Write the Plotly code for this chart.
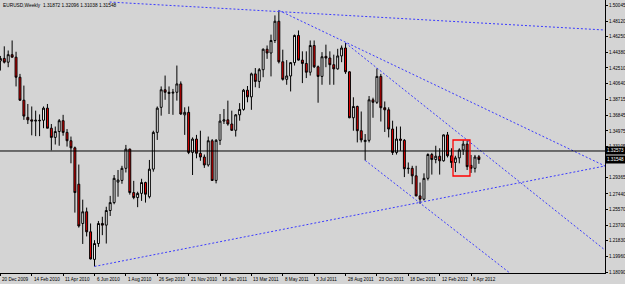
import pandas as pd
import plotly.graph_objects as go

# ---------------- data ----------------
symbol_text = "EURUSD,Weekly"
first_week = "2009-12-20"

opens = [1.4335, 1.4365, 1.4320, 1.4410, 1.4380, 1.4140, 1.3865, 1.3660, 1.3630, 1.3615,
         1.3625, 1.3625, 1.3770, 1.3530, 1.3420, 1.3490, 1.3620, 1.3480, 1.3380, 1.3295,
         1.2860, 1.2390, 1.2530, 1.2290, 1.1960, 1.2150, 1.2390, 1.2370, 1.2545, 1.2640,
         1.2885, 1.2905, 1.3050, 1.3280, 1.2760, 1.2700, 1.2750, 1.2880, 1.2710, 1.3040,
         1.3480, 1.3780, 1.3990, 1.3945, 1.3950, 1.3960, 1.4060, 1.3690, 1.3720, 1.3240,
         1.3400, 1.3230, 1.3185, 1.3090, 1.3380, 1.2905, 1.3385, 1.3615, 1.3630, 1.3580,
         1.3505, 1.3690, 1.3755, 1.3985, 1.3905, 1.4180, 1.4090, 1.4230, 1.4475, 1.4430,
         1.4580, 1.4810, 1.4325, 1.4115, 1.4155, 1.4315, 1.4640, 1.4345, 1.4305, 1.4200,
         1.4520, 1.4265, 1.4150, 1.4390, 1.4370, 1.4290, 1.4240, 1.4395, 1.4490, 1.4205,
         1.3655, 1.3790, 1.3500, 1.3370, 1.3385, 1.3870, 1.3840, 1.4150, 1.3775, 1.3750,
         1.3520, 1.3240, 1.3400, 1.3385, 1.3045, 1.3050, 1.2960, 1.2720, 1.2680, 1.2930,
         1.3215, 1.3155, 1.3195, 1.3140, 1.3450, 1.3200, 1.3120, 1.3175, 1.3270, 1.3340,
         1.3085, 1.3050, 1.31872]
highs = [1.4395, 1.4510, 1.4460, 1.4580, 1.4445, 1.4180, 1.4040, 1.3820, 1.3790, 1.3740,
         1.3695, 1.3790, 1.3820, 1.3580, 1.3550, 1.3640, 1.3690, 1.3520, 1.3430, 1.3310,
         1.3095, 1.2675, 1.2580, 1.2390, 1.2190, 1.2420, 1.2470, 1.2590, 1.2720, 1.2970,
         1.3030, 1.3080, 1.3330, 1.3285, 1.2900, 1.2770, 1.2925, 1.2890, 1.3150, 1.3500,
         1.3790, 1.4030, 1.4160, 1.4030, 1.4000, 1.4280, 1.4090, 1.3780, 1.3790, 1.3420,
         1.3450, 1.3500, 1.3215, 1.3430, 1.3400, 1.3400, 1.3700, 1.3760, 1.3860, 1.3740,
         1.3700, 1.3830, 1.4000, 1.4035, 1.4195, 1.4250, 1.4250, 1.4485, 1.4520, 1.4650,
         1.4880, 1.4940, 1.4470, 1.4345, 1.4320, 1.4650, 1.4700, 1.4450, 1.4450, 1.4580,
         1.4580, 1.4280, 1.4440, 1.4530, 1.4450, 1.4410, 1.4480, 1.4520, 1.4550, 1.4210,
         1.3900, 1.3800, 1.3730, 1.3460, 1.3915, 1.3895, 1.4245, 1.4180, 1.3850, 1.3780,
         1.3620, 1.3550, 1.3550, 1.3400, 1.3120, 1.3080, 1.3080, 1.2880, 1.2990, 1.3230,
         1.3235, 1.3320, 1.3290, 1.3455, 1.3485, 1.3290, 1.3200, 1.3290, 1.3385, 1.3380,
         1.3210, 1.3210, 1.32096]
lows = [1.4220, 1.4305, 1.4260, 1.4375, 1.4030, 1.3860, 1.3630, 1.3580, 1.3445, 1.3435,
        1.3435, 1.3530, 1.3530, 1.3265, 1.3335, 1.3320, 1.3440, 1.3310, 1.3110, 1.2520,
        1.2340, 1.2145, 1.2235, 1.1960, 1.1876, 1.2110, 1.2250, 1.2150, 1.2480, 1.2620,
        1.2710, 1.2865, 1.3000, 1.2735, 1.2680, 1.2585, 1.2660, 1.2640, 1.2690, 1.3010,
        1.3390, 1.3680, 1.3870, 1.3700, 1.3690, 1.3860, 1.3690, 1.3450, 1.3220, 1.2970,
        1.3170, 1.3140, 1.3055, 1.3070, 1.2900, 1.2870, 1.3330, 1.3580, 1.3560, 1.3500,
        1.3430, 1.3620, 1.3740, 1.3840, 1.3750, 1.4020, 1.4010, 1.4140, 1.4360, 1.4150,
        1.4550, 1.4305, 1.4100, 1.4050, 1.3970, 1.4280, 1.4340, 1.4070, 1.4130, 1.4160,
        1.4250, 1.3835, 1.4050, 1.4260, 1.4050, 1.4050, 1.4230, 1.4320, 1.4180, 1.3650,
        1.3500, 1.3360, 1.3360, 1.3145, 1.3360, 1.3655, 1.3820, 1.3610, 1.3485, 1.3420,
        1.3210, 1.3215, 1.3260, 1.2945, 1.2985, 1.2860, 1.2715, 1.2625, 1.2665, 1.2905,
        1.2975, 1.3110, 1.2975, 1.3130, 1.3180, 1.3055, 1.3005, 1.3110, 1.3210, 1.3030,
        1.2995, 1.3000, 1.31038]
closes = [1.4365, 1.4320, 1.4410, 1.4380, 1.4140, 1.3865, 1.3675, 1.3630, 1.3615, 1.3625,
          1.3620, 1.3770, 1.3530, 1.3420, 1.3490, 1.3620, 1.3480, 1.3380, 1.3295, 1.2760,
          1.2360, 1.2530, 1.2290, 1.1965, 1.2150, 1.2390, 1.2370, 1.2545, 1.2640, 1.2930,
          1.2910, 1.3050, 1.3280, 1.2760, 1.2700, 1.2750, 1.2880, 1.2740, 1.3040, 1.3480,
          1.3770, 1.3990, 1.3960, 1.3960, 1.3960, 1.4060, 1.3700, 1.3720, 1.3240, 1.3400,
          1.3230, 1.3185, 1.3090, 1.3380, 1.2905, 1.3385, 1.3615, 1.3630, 1.3580, 1.3505,
          1.3690, 1.3755, 1.3985, 1.3905, 1.4180, 1.4090, 1.4230, 1.4475, 1.4430, 1.4580,
          1.4810, 1.4325, 1.4115, 1.4155, 1.4315, 1.4640, 1.4345, 1.4305, 1.4200, 1.4520,
          1.4265, 1.4150, 1.4385, 1.4370, 1.4290, 1.4240, 1.4395, 1.4490, 1.4205, 1.3655,
          1.3790, 1.3500, 1.3390, 1.3385, 1.3870, 1.3840, 1.4150, 1.3775, 1.3750, 1.3520,
          1.3240, 1.3400, 1.3385, 1.3045, 1.3050, 1.2960, 1.2720, 1.2680, 1.2930, 1.3215,
          1.3155, 1.3195, 1.3140, 1.3450, 1.3200, 1.3120, 1.3175, 1.3270, 1.3340, 1.3070,
          1.3050, 1.3185, 1.31548]

price_ticks = [1.50045, 1.48120, 1.46250, 1.44380, 1.42510, 1.40640, 1.38715, 1.36845,
               1.34975, 1.33105, 1.29365, 1.27440, 1.25570, 1.23700, 1.21830, 1.19960, 1.18090]

date_ticks = ["2009-12-20", "2010-02-14", "2010-04-11", "2010-06-06", "2010-08-01",
              "2010-09-26", "2010-11-21", "2011-01-16", "2011-03-13", "2011-05-08",
              "2011-07-03", "2011-08-28", "2011-10-23", "2011-12-18", "2012-02-12", "2012-04-08"]
date_labels = ["20 Dec 2009", "14 Feb 2010", "11 Apr 2010", "6 Jun 2010", "1 Aug 2010",
               "26 Sep 2010", "21 Nov 2010", "16 Jan 2011", "13 Mar 2011", "8 May 2011",
               "3 Jul 2011", "28 Aug 2011", "23 Oct 2011", "18 Dec 2011", "12 Feb 2012", "8 Apr 2012"]

# trend lines: (dates, prices)
trend_a_dates = ["2010-07-03", "2012-12-03"]
trend_a_prices = [1.5040, 1.4705]
trend_b_dates = ["2011-05-01", "2012-12-03"]
trend_b_prices = [1.4940, 1.3078]
trend_c_dates = ["2010-06-06", "2012-12-03"]
trend_c_prices = [1.1876, 1.3078]
trend_d_dates = ["2011-08-28", "2012-12-03"]
trend_d_prices = [1.4550, 1.2072]
trend_e_dates = ["2011-10-02", "2012-07-01"]
trend_e_prices = [1.3145, 1.1720]

hline_price = 1.32573
rect_dates = ["2012-03-06 19:00", "2012-04-06 02:00"]
rect_prices = [1.2958, 1.3389]

x_window = ["2009-12-19 08:35", "2012-12-03 01:00"]
y_window = [1.17972, 1.50643]

# ---------------- figure ----------------
weeks = pd.date_range(first_week, periods=len(opens), freq="7D")
FONT = "Liberation Sans"
BG = "#d4d4d4"

fig = go.Figure()

trend_color = "#3a3aff"
for dts, prs in [(trend_a_dates, trend_a_prices), (trend_b_dates, trend_b_prices),
                 (trend_c_dates, trend_c_prices), (trend_d_dates, trend_d_prices),
                 (trend_e_dates, trend_e_prices)]:
    fig.add_trace(go.Scatter(x=dts, y=prs, mode="lines",
                             line=dict(color=trend_color, width=1, dash="2px,2px"),
                             hoverinfo="skip", showlegend=False))

fig.add_trace(go.Scatter(x=x_window, y=[hline_price, hline_price], mode="lines",
                         line=dict(color="black", width=1), hoverinfo="skip", showlegend=False))

fig.add_trace(go.Candlestick(
    x=weeks, open=opens, high=highs, low=lows, close=closes,
    increasing=dict(line=dict(color="black", width=1), fillcolor="white"),
    decreasing=dict(line=dict(color="black", width=1), fillcolor="#ee0000"),
    whiskerwidth=0, showlegend=False))

fig.add_shape(type="rect", xref="x", yref="y",
              x0=rect_dates[0], x1=rect_dates[1], y0=rect_prices[0], y1=rect_prices[1],
              line=dict(color="#ff0000", width=1.3), fillcolor="rgba(0,0,0,0)")

annotations = []
for d, lab in zip(date_ticks, date_labels):
    annotations.append(dict(x=d, y=0, xref="x", yref="paper", text=lab, showarrow=False,
                            xanchor="left", yanchor="top", xshift=0, yshift=-2,
                            font=dict(family=FONT, size=4.6, color="black")))

for p in [hline_price, closes[-1]]:
    annotations.append(dict(x=1, y=p, xref="paper", yref="y", text=f"{p:.5f}", showarrow=False,
                            xanchor="left", yanchor="middle", xshift=0,
                            bgcolor="black", borderpad=1,
                            font=dict(family=FONT, size=4.6, color="white")))

header = f"{symbol_text}  {opens[-1]:.5f} {highs[-1]:.5f} {lows[-1]:.5f} {closes[-1]:.5f}"
annotations.append(dict(x=0, y=1, xref="paper", yref="paper", text=header, showarrow=False,
                        xanchor="left", yanchor="top", xshift=1, yshift=-1,
                        font=dict(family=FONT, size=4.8, color="black")))

fig.update_layout(
    width=625, height=284,
    margin=dict(l=0, r=20, t=0, b=11, autoexpand=False),
    paper_bgcolor=BG, plot_bgcolor=BG,
    showlegend=False,
    annotations=annotations,
    xaxis=dict(type="date", range=x_window, rangeslider=dict(visible=False),
               showgrid=False, zeroline=False, showline=True, linecolor="black", linewidth=1,
               tickmode="array", tickvals=date_ticks, ticks="outside", ticklen=2,
               tickcolor="black", showticklabels=False, fixedrange=True),
    yaxis=dict(range=y_window, side="right", showgrid=False, zeroline=False,
               showline=True, linecolor="black", linewidth=1,
               tickmode="array", tickvals=price_ticks,
               ticktext=[f"{v:.5f}" for v in price_ticks],
               ticks="outside", ticklen=2, tickcolor="black",
               tickfont=dict(family=FONT, size=4.6, color="black"), automargin=False),
)

fig.write_html("out.html")
